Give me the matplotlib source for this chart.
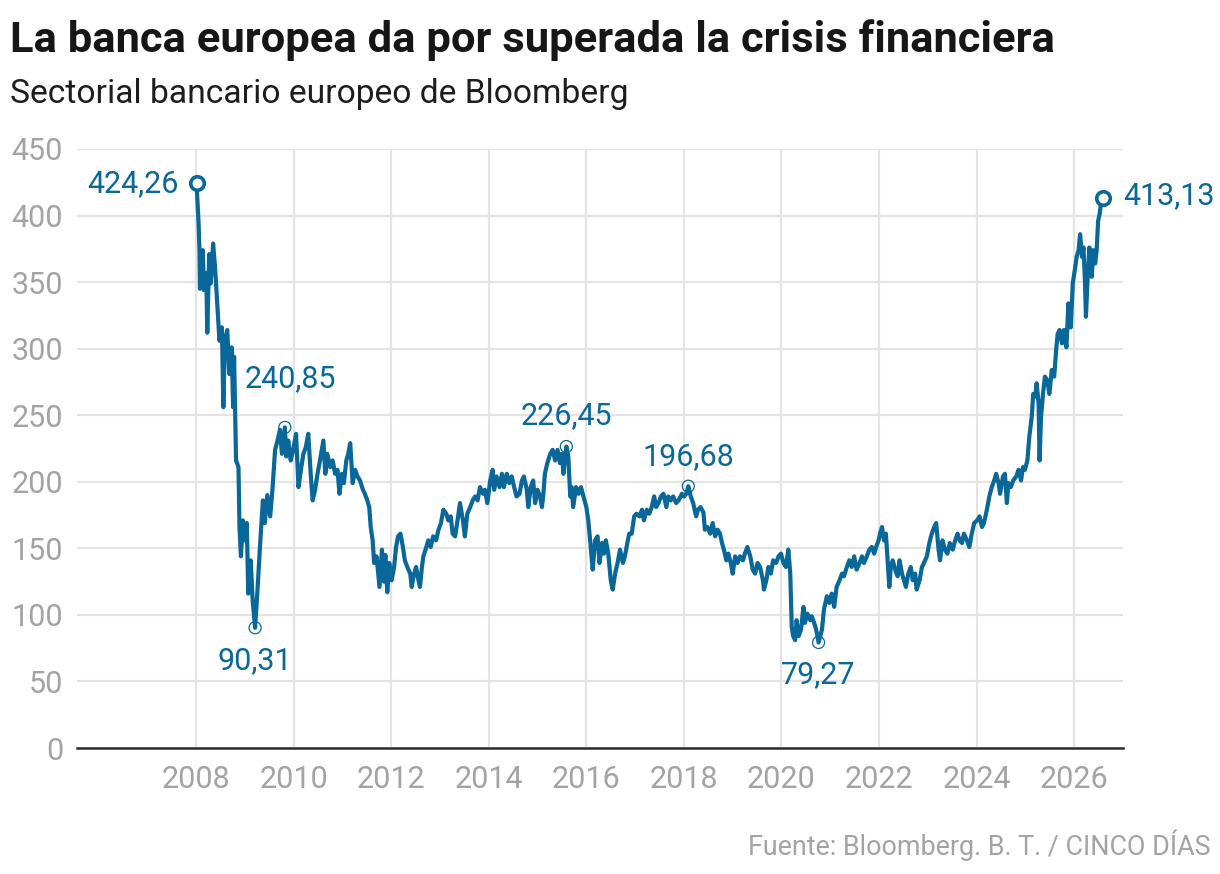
import matplotlib
matplotlib.use("Agg")
import matplotlib.pyplot as plt

# ---------------- data (decimal year, index value) ----------------
fechas = [
    2008.01, 2008.05, 2008.07, 2008.08, 2008.14, 2008.16, 2008.21, 2008.23, 2008.27, 2008.30,
    2008.35, 2008.39, 2008.44, 2008.48, 2008.53, 2008.56, 2008.59, 2008.64, 2008.68, 2008.73,
    2008.76, 2008.78, 2008.82, 2008.87, 2008.89, 2008.92, 2008.96, 2009.00, 2009.04, 2009.07,
    2009.12, 2009.16, 2009.21, 2009.26, 2009.31, 2009.37, 2009.41, 2009.46, 2009.52, 2009.57,
    2009.62, 2009.67, 2009.72, 2009.76, 2009.82, 2009.85, 2009.89, 2009.94, 2009.99, 2010.05,
    2010.10, 2010.15, 2010.20, 2010.25, 2010.30, 2010.35, 2010.39, 2010.44, 2010.49, 2010.54,
    2010.61, 2010.65, 2010.69, 2010.75, 2010.80, 2010.85, 2010.90, 2010.94, 2010.99, 2011.03,
    2011.08, 2011.12, 2011.16, 2011.21, 2011.26, 2011.31, 2011.36, 2011.42, 2011.46, 2011.51,
    2011.55, 2011.58, 2011.62, 2011.65, 2011.70, 2011.76, 2011.81, 2011.85, 2011.88, 2011.92,
    2011.96, 2012.01, 2012.06, 2012.10, 2012.14, 2012.19, 2012.24, 2012.28, 2012.33, 2012.39,
    2012.42, 2012.47, 2012.51, 2012.56, 2012.59, 2012.63, 2012.66, 2012.72, 2012.76, 2012.81,
    2012.86, 2012.92, 2012.97, 2013.02, 2013.07, 2013.13, 2013.17, 2013.22, 2013.26, 2013.31,
    2013.36, 2013.41, 2013.47, 2013.51, 2013.56, 2013.62, 2013.67, 2013.72, 2013.77, 2013.82,
    2013.88, 2013.92, 2013.97, 2014.03, 2014.08, 2014.11, 2014.16, 2014.22, 2014.27, 2014.31,
    2014.37, 2014.42, 2014.47, 2014.52, 2014.57, 2014.63, 2014.68, 2014.72, 2014.78, 2014.81,
    2014.86, 2014.91, 2014.95, 2015.00, 2015.05, 2015.09, 2015.12, 2015.15, 2015.20, 2015.26,
    2015.31, 2015.36, 2015.41, 2015.46, 2015.50, 2015.53, 2015.59, 2015.63, 2015.67, 2015.70,
    2015.73, 2015.79, 2015.84, 2015.89, 2015.94, 2016.00, 2016.04, 2016.09, 2016.13, 2016.18,
    2016.23, 2016.27, 2016.32, 2016.36, 2016.40, 2016.45, 2016.50, 2016.54, 2016.59, 2016.64,
    2016.69, 2016.75, 2016.79, 2016.84, 2016.88, 2016.93, 2016.98, 2017.03, 2017.09, 2017.14,
    2017.18, 2017.24, 2017.29, 2017.34, 2017.39, 2017.43, 2017.48, 2017.53, 2017.58, 2017.64,
    2017.68, 2017.73, 2017.78, 2017.84, 2017.89, 2017.96, 2018.00, 2018.05, 2018.09, 2018.14,
    2018.19, 2018.25, 2018.29, 2018.34, 2018.40, 2018.43, 2018.48, 2018.54, 2018.59, 2018.64,
    2018.69, 2018.74, 2018.78, 2018.82, 2018.87, 2018.91, 2018.96, 2019.00, 2019.05, 2019.10,
    2019.15, 2019.21, 2019.25, 2019.30, 2019.36, 2019.41, 2019.46, 2019.51, 2019.56, 2019.62,
    2019.64, 2019.69, 2019.73, 2019.78, 2019.83, 2019.89, 2019.94, 2019.99, 2020.04, 2020.09,
    2020.14, 2020.18, 2020.21, 2020.24, 2020.28, 2020.31, 2020.35, 2020.40, 2020.45, 2020.48,
    2020.53, 2020.59, 2020.62, 2020.67, 2020.71, 2020.76, 2020.83, 2020.87, 2020.93, 2020.98,
    2021.03, 2021.08, 2021.13, 2021.19, 2021.24, 2021.28, 2021.34, 2021.39, 2021.44, 2021.49,
    2021.54, 2021.60, 2021.65, 2021.69, 2021.75, 2021.80, 2021.85, 2021.90, 2021.94, 2021.99,
    2022.02, 2022.06, 2022.10, 2022.14, 2022.17, 2022.21, 2022.24, 2022.28, 2022.33, 2022.38,
    2022.42, 2022.47, 2022.51, 2022.55, 2022.60, 2022.65, 2022.69, 2022.74, 2022.77, 2022.83,
    2022.88, 2022.92, 2022.98, 2023.03, 2023.08, 2023.13, 2023.17, 2023.22, 2023.25, 2023.30,
    2023.35, 2023.40, 2023.45, 2023.51, 2023.56, 2023.61, 2023.65, 2023.70, 2023.74, 2023.80,
    2023.85, 2023.90, 2023.95, 2024.01, 2024.06, 2024.11, 2024.15, 2024.21, 2024.26, 2024.31,
    2024.36, 2024.40, 2024.45, 2024.48, 2024.54, 2024.58, 2024.62, 2024.65, 2024.70, 2024.75,
    2024.81, 2024.86, 2024.91, 2024.95, 2024.99, 2025.04, 2025.08, 2025.13, 2025.16, 2025.20,
    2025.23, 2025.27, 2025.29, 2025.32, 2025.36, 2025.40, 2025.45, 2025.49, 2025.54, 2025.59,
    2025.63, 2025.66, 2025.70, 2025.75, 2025.79, 2025.84, 2025.88, 2025.93, 2025.97, 2026.02,
    2026.05, 2026.09, 2026.12, 2026.16, 2026.19, 2026.22, 2026.24, 2026.27, 2026.31, 2026.36,
    2026.39, 2026.43, 2026.46, 2026.49, 2026.52, 2026.55, 2026.60,
]
valores = [
    424.26, 396, 374, 345, 374, 344, 357, 312, 371, 349,
    379, 361, 331, 306, 316, 256, 306, 314, 281, 301,
    256, 294, 216, 211, 166, 144, 171, 156, 169, 116,
    141, 111, 90.31, 119, 151, 186, 169, 190, 174, 196,
    224, 231, 239, 221, 240.85, 219, 231, 216, 224, 236,
    196, 209, 221, 226, 236, 206, 186, 194, 206, 216,
    231, 206, 221, 211, 216, 206, 209, 191, 206, 199,
    216, 221, 229, 199, 209, 204, 201, 194, 191, 186,
    181, 166, 156, 139, 144, 121, 149, 125, 145, 117,
    139, 126, 136, 151, 159, 161, 151, 141, 136, 131,
    121, 131, 136, 126, 121, 136, 144, 151, 156, 151,
    159, 156, 164, 169, 179, 176, 171, 174, 161, 159,
    171, 184, 171, 159, 176, 181, 186, 189, 186, 196,
    191, 194, 184, 201, 209, 194, 204, 196, 206, 196,
    206, 199, 204, 196, 189, 191, 201, 204, 194, 181,
    196, 201, 184, 194, 189, 181, 191, 206, 214, 221,
    224, 216, 224, 214, 221, 206, 226.45, 219, 189, 196,
    181, 196, 191, 196, 189, 181, 171, 151, 134, 156,
    159, 139, 154, 146, 156, 146, 126, 119, 131, 139,
    149, 139, 144, 154, 161, 161, 174, 176, 174, 179,
    171, 179, 176, 181, 189, 181, 184, 189, 191, 181,
    189, 186, 189, 184, 186, 191, 189, 191, 196.68, 189,
    184, 174, 179, 181, 177, 164, 166, 161, 169, 159,
    164, 161, 154, 149, 141, 146, 139, 131, 144, 139,
    144, 141, 146, 151, 144, 134, 131, 139, 136, 126,
    119, 126, 136, 131, 141, 139, 144, 146, 139, 136,
    149, 131, 91, 84, 81, 96, 84, 89, 106, 94,
    101, 96, 99, 94, 89, 79.27, 89, 104, 114, 109,
    116, 106, 121, 126, 131, 129, 136, 141, 136, 144,
    134, 139, 144, 139, 144, 149, 151, 146, 151, 156,
    161, 166, 156, 161, 144, 121, 136, 141, 134, 129,
    141, 131, 126, 121, 131, 136, 126, 131, 119, 126,
    136, 139, 144, 154, 161, 166, 169, 149, 141, 156,
    149, 146, 154, 149, 156, 161, 156, 154, 161, 156,
    151, 161, 169, 171, 174, 166, 169, 179, 189, 196,
    201, 206, 199, 191, 204, 206, 184, 199, 196, 201,
    204, 209, 201, 211, 209, 216, 234, 249, 266, 264,
    274, 259, 216, 249, 266, 279, 276, 266, 284, 279,
    299, 311, 314, 304, 314, 301, 334, 316, 349, 361,
    369, 374, 386, 369, 376, 351, 324, 349, 376, 354,
    374, 364, 374, 396, 401, 409, 413.13,
]

# highlighted points: (year, value, label)
hitos_fechas = [2009.82, 2009.21, 2015.59, 2018.09, 2020.76]
hitos_valores = [240.85, 90.31, 226.45, 196.68, 79.27]
hitos_etiquetas = ["240,85", "90,31", "226,45", "196,68", "79,27"]
extremos_fechas = [2008.01, 2026.60]
extremos_valores = [424.26, 413.13]
extremos_etiquetas = ["424,26", "413,13"]

anios_ticks = [2008, 2010, 2012, 2014, 2016, 2018, 2020, 2022, 2024, 2026]
valores_ticks = [0, 50, 100, 150, 200, 250, 300, 350, 400, 450]

# ---------------- style ----------------
AZUL = "#0a6799"
GRIS_TXT = "#a3a3a3"
GRID = "#e4e4e4"
plt.rcParams["font.family"] = ["Roboto", "DejaVu Sans"]

W, H = 1220, 874
fig = plt.figure(figsize=(W / 100, H / 100), dpi=100)
ax = fig.add_axes([77 / W, 1 - 748 / H, (1123 - 77) / W, (748 - 149) / H])

ax.set_xlim(2005.56, 2027.0)
ax.set_ylim(0, 450)
ax.set_xticks(anios_ticks)
ax.set_xticklabels([str(a) for a in anios_ticks])
ax.set_yticks(valores_ticks)
ax.set_yticklabels([str(v) for v in valores_ticks])
ax.tick_params(axis="both", length=0, labelsize=22, labelcolor=GRIS_TXT)
ax.tick_params(axis="x", pad=12)
ax.tick_params(axis="y", pad=10)
ax.grid(True, color=GRID, lw=1.6, zorder=0)
ax.set_axisbelow(True)
for s in ["top", "right", "left"]:
    ax.spines[s].set_visible(False)
ax.spines["bottom"].set_color("#2b2b2b")
ax.spines["bottom"].set_linewidth(1.8)
ax.spines["bottom"].set_zorder(3)

ax.plot(fechas, valores, color=AZUL, lw=3.0, solid_joinstyle="round", zorder=4, clip_on=False)

# small markers
ax.scatter(hitos_fechas, hitos_valores, s=75, facecolors="none", edgecolors=AZUL,
           linewidths=0.9, zorder=5, clip_on=False)
offsets = [(4, 35), (0, -24), (0, 22), (0, 21.5), (0, -23)]
for x, y, t, off in zip(hitos_fechas, hitos_valores, hitos_etiquetas, offsets):
    ax.annotate(t, (x, y), xytext=off, textcoords="offset points", ha="center",
                va="center", fontsize=22, color=AZUL, zorder=6)

# end markers
ax.scatter(extremos_fechas, extremos_valores, s=95, facecolors="white", edgecolors=AZUL,
           linewidths=2.6, zorder=6, clip_on=False)
ax.annotate(extremos_etiquetas[0], (extremos_fechas[0], extremos_valores[0]), xytext=(-13, 0),
            textcoords="offset points", ha="right", va="center", fontsize=22, color=AZUL)
ax.annotate(extremos_etiquetas[1], (extremos_fechas[1], extremos_valores[1]), xytext=(14, 2),
            textcoords="offset points", ha="left", va="center", fontsize=22, color=AZUL)

# titles
fig.text(10 / W, 1 - 40 / H, "La banca europea da por superada la crisis financiera",
         fontsize=31.3, fontweight="bold", color="#161616", ha="left", va="center")
fig.text(10 / W, 1 - 94 / H, "Sectorial bancario europeo de Bloomberg",
         fontsize=24.2, color="#1d1d1d", ha="left", va="center")
fig.text(1210 / W, 1 - 845 / H, "Fuente: Bloomberg. B. T. / CINCO DÍAS",
         fontsize=19.4, color=GRIS_TXT, ha="right", va="center")

fig.savefig("out.png", dpi=100)
